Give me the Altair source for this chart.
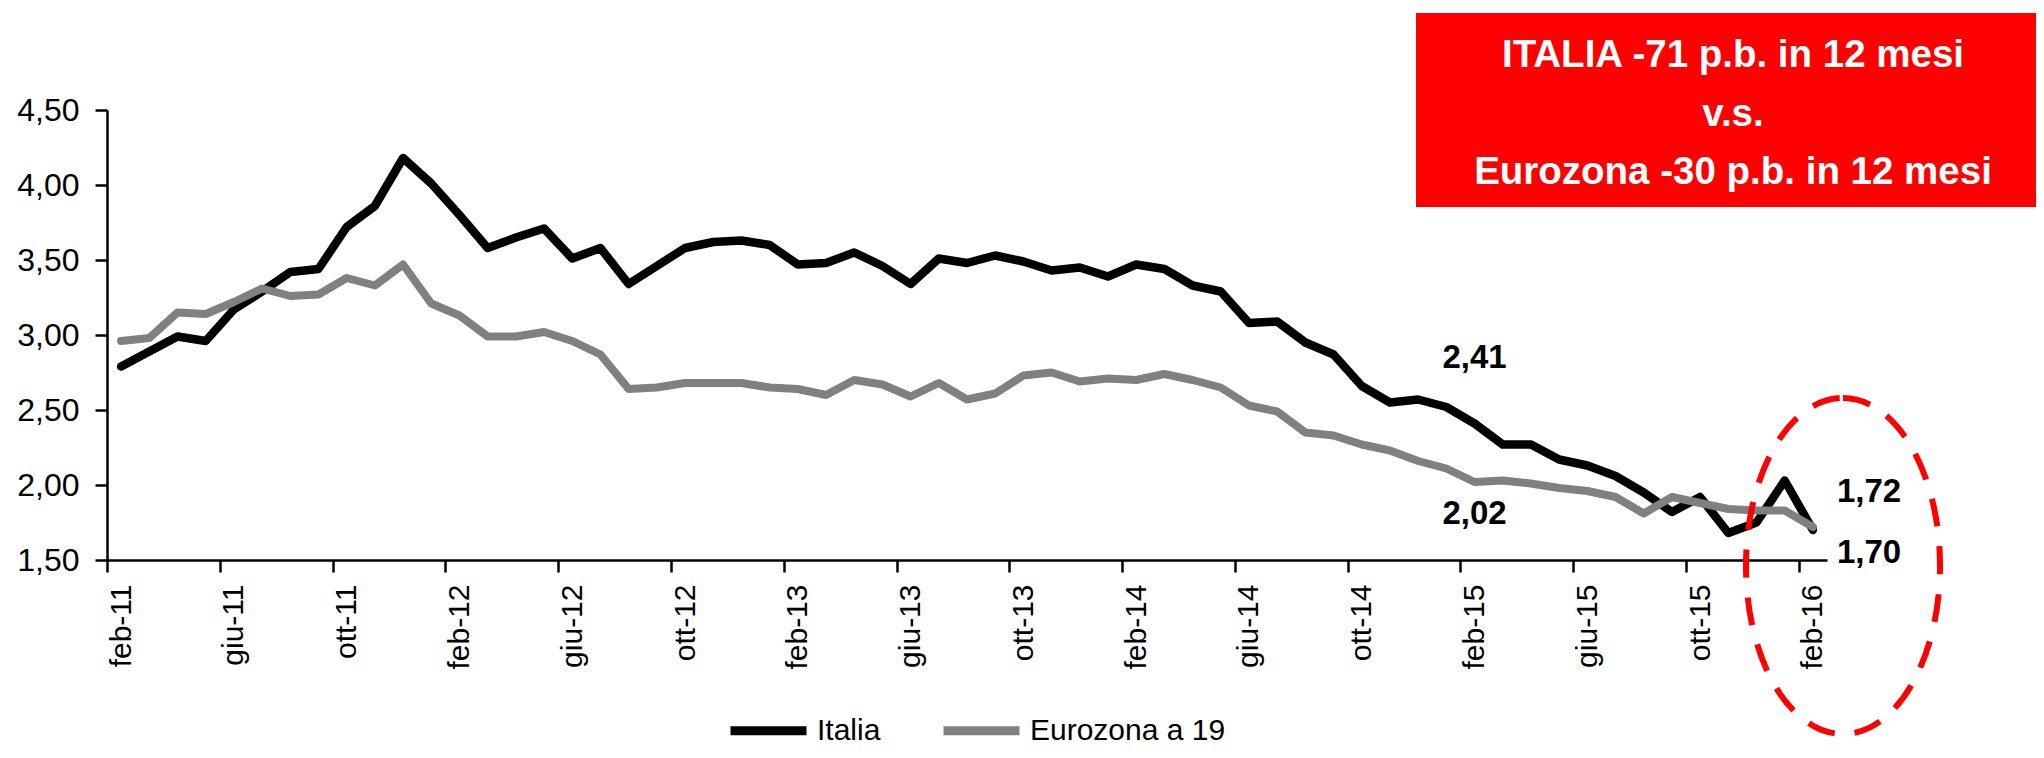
import json
import altair as alt
import pandas as pd

# ---------------- data ----------------
mesi = ["gen", "feb", "mar", "apr", "mag", "giu", "lug", "ago", "set", "ott", "nov", "dic"]
months = [f"{mesi[(1 + k) % 12]}-{11 + (1 + k) // 12}" for k in range(61)]  # feb-11 ... feb-16

series_names = ["Italia", "Eurozona a 19"]
series_colors = ["#000000", "#808080"]

italia = [2.79, 2.89, 2.99, 2.96, 3.17, 3.29, 3.42, 3.44, 3.72, 3.86,
          4.18, 4.01, 3.80, 3.58, 3.65, 3.71, 3.51, 3.58, 3.34, 3.46,
          3.58, 3.62, 3.63, 3.60, 3.47, 3.48, 3.55, 3.46, 3.34, 3.51,
          3.48, 3.53, 3.49, 3.43, 3.45, 3.39, 3.47, 3.44, 3.33, 3.29,
          3.08, 3.09, 2.95, 2.87, 2.66, 2.55, 2.57, 2.52, 2.41, 2.27,
          2.27, 2.17, 2.13, 2.06, 1.95, 1.82, 1.92, 1.68, 1.75, 2.03,
          1.70]
eurozona = [2.96, 2.98, 3.15, 3.14, 3.22, 3.31, 3.26, 3.27, 3.38, 3.33,
            3.47, 3.21, 3.13, 2.99, 2.99, 3.02, 2.96, 2.87, 2.64, 2.65,
            2.68, 2.68, 2.68, 2.65, 2.64, 2.60, 2.70, 2.67, 2.59, 2.68,
            2.57, 2.61, 2.73, 2.75, 2.69, 2.71, 2.70, 2.74, 2.70, 2.65,
            2.53, 2.49, 2.35, 2.33, 2.27, 2.23, 2.16, 2.11, 2.02, 2.03,
            2.01, 1.98, 1.96, 1.92, 1.81, 1.92, 1.88, 1.84, 1.83, 1.83,
            1.72]

x_tick_index = list(range(0, 61, 4))
y_ticks = [1.5, 2.0, 2.5, 3.0, 3.5, 4.0, 4.5]

ann_labels = ["2,41", "2,02", "1,72", "1,70"]
ann_series = ["Italia", "Eurozona a 19", "Eurozona a 19", "Italia"]
ann_index = [48, 48, 60, 60]
ann_values = [2.41, 2.02, 1.72, 1.70]

box_lines = ["ITALIA -71 p.b. in 12 mesi", "v.s.", "Eurozona -30 p.b. in 12 mesi"]

# ---------------- tables ----------------
rows = []
for name, vals in zip(series_names, [italia, eurozona]):
    for k, v in enumerate(vals):
        rows.append({"i": k, "month": months[k], "series": name, "value": v})
df = pd.DataFrame(rows)
ann_df = pd.DataFrame({"label": ann_labels, "series": ann_series,
                       "i": ann_index, "value": ann_values})
one = pd.DataFrame({"k": [0]})

# ---------------- layout ----------------
W, H = 1720, 450
half = W / 61 / 2
FONT = "'Liberation Sans', Arial, sans-serif"

x_enc = alt.X(
    "i:Q",
    scale=alt.Scale(domain=[-0.5, 60.5], nice=False, zero=False),
    axis=alt.Axis(
        values=x_tick_index,
        labelExpr=f"{json.dumps(months)}[datum.value]",
        labelAngle=-90,
        tickOffset=-half,
        labelOffset=half,
        labelFlush=False,
        labelOverlap=False,
        labelPadding=12,
        labelFontSize=30,
        tickSize=12,
        grid=False,
        title=None,
    ),
)
y_enc = alt.Y(
    "value:Q",
    scale=alt.Scale(domain=[1.5, 4.5], nice=False, zero=False),
    axis=alt.Axis(
        values=y_ticks,
        labelExpr="replace(format(datum.value, '.2f'), '.', ',')",
        labelFlush=False,
        labelPadding=16,
        labelFontSize=32,
        tickSize=12,
        grid=False,
        title=None,
    ),
)
color_enc = alt.Color(
    "series:N",
    scale=alt.Scale(domain=series_names, range=series_colors),
    legend=alt.Legend(
        title=None,
        orient="none",
        direction="horizontal",
        legendX=619,
        legendY=578,
        symbolType="stroke",
        symbolSize=5776,
        symbolStrokeWidth=9,
        labelFont=FONT,
        labelFontSize=30,
        labelColor="#000000",
        labelLimit=400,
        labelOffset=6,
        columnPadding=44,
    ),
)

base = alt.Chart(df).encode(x=x_enc, y=y_enc, color=color_enc)
line_it = base.transform_filter(alt.datum.series == "Italia").mark_line(
    strokeWidth=8.5, strokeCap="round", strokeJoin="round")
line_eu = base.transform_filter(alt.datum.series == "Eurozona a 19").mark_line(
    strokeWidth=8, strokeCap="round", strokeJoin="round")

ann_style = {
    "2,41": dict(dx=0, dy=-66, align="center"),
    "2,02": dict(dx=0, dy=32, align="center"),
    "1,72": dict(dx=24, dy=-35, align="left"),
    "1,70": dict(dx=24, dy=23, align="left"),
}
ann_layers = []
for lab in ann_labels:
    st = ann_style[lab]
    ann_layers.append(
        alt.Chart(ann_df).transform_filter(alt.datum.label == lab)
        .mark_text(font=FONT, fontSize=33, fontWeight="bold", color="#000000",
                   baseline="middle", **st)
        .encode(x="i:Q", y="value:Q", text="label:N")
    )

box = alt.Chart(one).mark_rect(color="#ff0000").encode(
    x=alt.value(1309), x2=alt.value(1929), y=alt.value(-97), y2=alt.value(97))
box_text = alt.Chart(one).mark_text(
    text=box_lines, font=FONT, fontSize=38.5, fontWeight="bold", color="#ffffff",
    align="center", baseline="alphabetic", lineHeight=58.5,
).encode(x=alt.value(1626), y=alt.value(-43))

ry = 168
rx = 97
a = rx / ry
kx = 0.5523 * a
ky = 0.5523
ellipse_path = (
    f"M0,-1 C{kx:.4f},-1 {a:.4f},-{ky} {a:.4f},0 "
    f"C{a:.4f},{ky} {kx:.4f},1 0,1 "
    f"C-{kx:.4f},1 -{a:.4f},{ky} -{a:.4f},0 "
    f"C-{a:.4f},-{ky} -{kx:.4f},-1 0,-1 Z"
)
ellipse = alt.Chart(one).mark_point(
    shape=ellipse_path, size=(2 * ry) ** 2, filled=False, stroke="#ff0000",
    strokeWidth=6, strokeDash=[28, 20], opacity=1,
).encode(x=alt.value(1736), y=alt.value(456))

chart = alt.layer(line_it, line_eu, *ann_layers, box, box_text, ellipse).properties(
    width=W, height=H,
    autosize=alt.AutoSizeParams(type="none"),
    padding={"left": 99, "top": 102, "right": 209, "bottom": 190},
    background="#ffffff",
).configure_view(stroke=None).configure_axis(
    domainColor="#000000", domainWidth=2.5, tickColor="#000000", tickWidth=2.5,
    labelFont=FONT, labelColor="#000000",
)

chart.save("out.html", embed_options={"renderer": "svg", "actions": False})
